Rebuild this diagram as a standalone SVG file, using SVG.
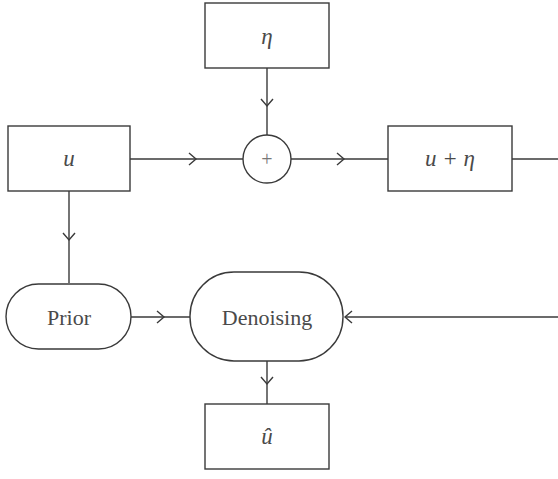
<svg xmlns="http://www.w3.org/2000/svg" width="558" height="479" viewBox="0 0 558 479">
<style>
.box{fill:#fff;stroke:#3a3a3a;stroke-width:1.4}
.ln{fill:none;stroke:#3a3a3a;stroke-width:1.4;marker-mid:url(#chev)}
.t{font-family:"Liberation Serif","Times New Roman",serif;font-size:22px;fill:#4a4a4a;text-anchor:middle;dominant-baseline:central}
.m{font-style:italic;font-size:23px}
</style>
<defs>
<marker id="chev" markerUnits="userSpaceOnUse" markerWidth="20" markerHeight="20" refX="10" refY="10" orient="auto" viewBox="0 0 20 20">
<path d="M3,4 L10,10 L3,16" fill="none" stroke="#3a3a3a" stroke-width="1.4"/>
</marker>
</defs>
<g id="connectors">
<path class="ln" d="M267,68 L267,106 L267,135"/>
<path class="ln" d="M130,159 L196,159 L243,159"/>
<path class="ln" d="M291,159 L344,159 L388,159"/>
<path class="ln" d="M512,159 L558,159"/>
<path class="ln" d="M69,191 L69,240 L69,283"/>
<path class="ln" d="M131,317 L164,317 L190,317"/>
<path class="ln" d="M558,317 L345,317" style="marker-mid:none;marker-end:url(#chev)"/>
<path class="ln" d="M267,361 L267,384 L267,404"/>
</g>
<g id="eta"><rect class="box" x="205" y="3" width="124" height="65"/><text class="t m" x="267" y="36">η</text></g>
<g id="u"><rect class="box" x="8" y="126" width="122" height="65"/><text class="t m" x="69" y="158">u</text></g>
<g id="plus"><circle class="box" cx="267" cy="159" r="24"/><text class="t" x="267" y="159" style="font-size:20px;fill:#777">+</text></g>
<g id="u_eta"><rect class="box" x="388" y="126" width="124" height="65"/><text class="t m" x="450" y="158">u + η</text></g>
<g id="prior"><rect class="box" x="6" y="284" width="125" height="65" rx="32.5"/><text class="t" x="69" y="317">Prior</text></g>
<g id="denoising"><rect class="box" x="190" y="272" width="153" height="89" rx="44"/><text class="t" x="267" y="317">Denoising</text></g>
<g id="uhat"><rect class="box" x="205" y="404" width="124" height="65"/><text class="t m" x="267" y="436">û</text></g>
</svg>
